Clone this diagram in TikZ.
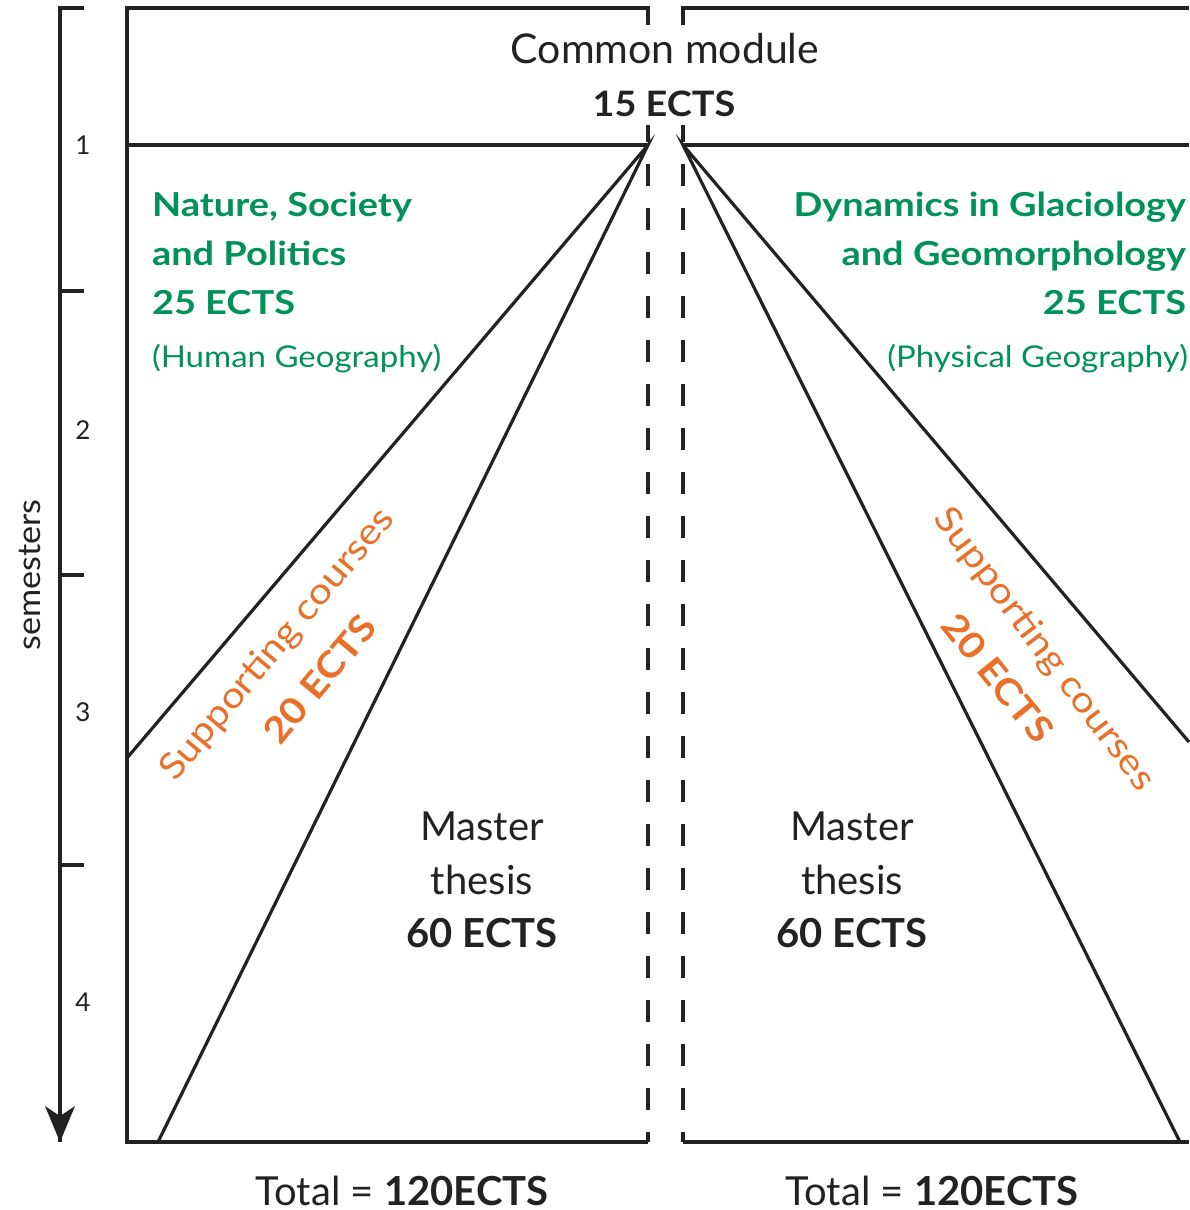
\documentclass[tikz,border=0pt]{standalone}
\usepackage{fontspec}
\setmainfont{Lato}
\newfontfamily\fB{Lato}[FakeStretch=1.08]
\newfontfamily\fC{Lato}[FakeStretch=1.15]
\newfontfamily\fD{Lato}[FakeStretch=1.1]
\newfontfamily\fE{Lato}[FakeStretch=1.13]
\newfontfamily\fF{Lato}[FakeStretch=1.07]
\usetikzlibrary{arrows.meta}
\definecolor{tgreen}{RGB}{0,146,90}
\definecolor{torange}{RGB}{232,112,40}
\definecolor{tline}{RGB}{34,34,34}
\begin{document}
\begin{tikzpicture}[x=1pt,y=-1pt,
  every node/.style={inner sep=0pt,outer sep=0pt},
  frame/.style={draw=tline,line width=3.2pt,line cap=butt,line join=miter},
  sepline/.style={frame,dash pattern=on 22pt off 22pt,dash phase=12pt},
  axisline/.style={draw=tline,line width=3.2pt},
  headtxt/.style={text=tline,font=\fontsize{41}{48}\selectfont},
  headbold/.style={text=tline,font=\fB\fontsize{35}{42}\selectfont\bfseries},
  greenb/.style={text=tgreen,font=\fC\fontsize{33}{38}\selectfont\bfseries},
  greenl/.style={text=tgreen,font=\fD\fontsize{30}{36}\selectfont},
  orangel/.style={text=torange,font=\fE\fontsize{36}{42}\selectfont},
  orangeb/.style={text=torange,font=\fE\fontsize{36}{42}\selectfont\bfseries},
  thesis/.style={text=tline,font=\fontsize{40}{46}\selectfont},
  thesisb/.style={text=tline,font=\fontsize{40}{46}\selectfont\bfseries},
  semnum/.style={text=tline,font=\fontsize{26}{30}\selectfont},
  totaltxt/.style={text=tline,text depth=0pt,font=\fontsize{40}{46}\selectfont}]
\useasboundingbox[fill=white] (0,0) rectangle (1189,1210);

% coordinates
\coordinate (axtop) at (60,8);
\coordinate (axtick) at (84,8);
\coordinate (axbot) at (60,1142);
\coordinate (LTL) at (127,8);
\coordinate (LTR) at (648,8);
\coordinate (LTRs) at (648,25);
\coordinate (LML) at (127,145);
\coordinate (LA) at (648,145);
\coordinate (LBL) at (127,1142);
\coordinate (LBR) at (648,1142);
\coordinate (LD1) at (127,758);
\coordinate (LD2) at (158,1142);
\coordinate (Ltop) at (648,125);
\coordinate (RTL) at (683,8);
\coordinate (RTLs) at (683,25);
\coordinate (RTR) at (1189,8);
\coordinate (RA) at (683,145);
\coordinate (RMR) at (1189,145);
\coordinate (RBL) at (683,1142);
\coordinate (RBR) at (1189,1142);
\coordinate (RD1) at (1189,742);
\coordinate (RD2) at (1180,1142);
\coordinate (Rtop) at (683,125);

% semester axis
\draw[axisline] (axtick) -- (axtop) -- (axbot);
\fill[tline] (axbot) -- (45,1106) -- (60,1116) -- (75,1106) -- cycle;
\foreach \yy/\nm in {291/t1,575/t2,865/t3}{
  \coordinate (\nm a) at (60,\yy);
  \coordinate (\nm b) at (84,\yy);
  \draw[axisline] (\nm a) -- (\nm b);
}
\node[semnum,anchor=base] (s1) at (83,154) {1};
\node[semnum,anchor=base] (s2) at (83,439) {2};
\node[semnum,anchor=base] (s3) at (83,721) {3};
\node[semnum,anchor=base] (s4) at (83,1011) {4};
\node[text=tline,font=\fF\fontsize{32}{36}\selectfont,rotate=90] (sem) at (30,575) {semesters};

% left frame
\draw[frame] (LTRs) -- (LTR) -- (LTL) -- (LBL) -- (LBR);
\draw[frame] (LML) -- (LA);
\draw[sepline] (LBR) -- (Ltop);
\draw[frame] (LD1) -- (LA) -- (LD2);

% right frame
\draw[frame] (RTLs) -- (RTL) -- (RTR);
\draw[frame] (RA) -- (RMR);
\draw[frame] (RBL) -- (RBR);
\draw[sepline] (RBL) -- (Rtop);
\draw[frame] (RD1) -- (RA) -- (RD2);

% common module
\node[headtxt,anchor=base] (cm) at (665,63) {Common module};
\node[headbold,anchor=base] (cme) at (664,116) {15 ECTS};

% left green
\node[greenb,anchor=base west] (l1) at (152,216) {Nature, Society};
\node[greenb,anchor=base west] (l2) at (152,265) {and Politics};
\node[greenb,anchor=base west] (l3) at (152,314) {25 ECTS};
\node[greenl,anchor=base west] (l4) at (152,367) {(Human Geography)};

% right green
\node[greenb,anchor=base east] (r1) at (1186,216) {Dynamics in Glaciology};
\node[greenb,anchor=base east] (r2) at (1186,265) {and Geomorphology};
\node[greenb,anchor=base east] (r3) at (1186,314) {25 ECTS};
\node[greenl,anchor=base east] (r4) at (1188,367) {(Physical Geography)};

% supporting courses
\node[orangel,rotate=50] (ls1) at (278,645) {Supporting courses};
\node[orangeb,rotate=50] (ls2) at (320,679) {20 ECTS};
\node[orangel,rotate=-53] (rs1) at (1044,650) {Supporting courses};
\node[orangeb,rotate=-51] (rs2) at (998,678) {20 ECTS};

% master thesis
\node[thesis,anchor=base] (lm1) at (482,840) {Master};
\node[thesis,anchor=base] (lm2) at (482,894) {thesis};
\node[thesisb,anchor=base] (lm3) at (482,947) {60 ECTS};
\node[thesis,anchor=base] (rm1) at (852,840) {Master};
\node[thesis,anchor=base] (rm2) at (852,894) {thesis};
\node[thesisb,anchor=base] (rm3) at (852,947) {60 ECTS};

% totals
\node[totaltxt,anchor=base] (lt) at (402,1205) {Total = \textbf{120ECTS}};
\node[totaltxt,anchor=base] (rt) at (932,1205) {Total = \textbf{120ECTS}};
\end{tikzpicture}
\end{document}
